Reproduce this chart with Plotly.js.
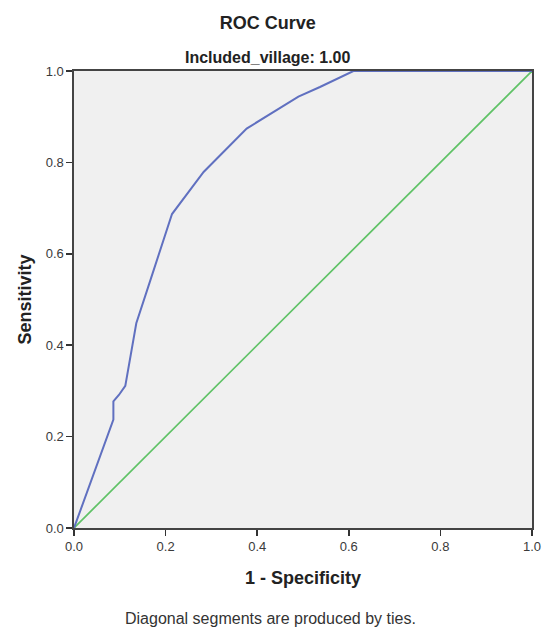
<!DOCTYPE html>
<html>
<head>
<meta charset="utf-8">
<script src="https://cdn.plot.ly/plotly-3.0.1.min.js"></script>
<style>html,body{margin:0;padding:0;background:#fff;}#chart{width:542px;height:630px;}</style>
</head>
<body>
<div id="chart"></div>
<script>
// ROC curve (1 - specificity, sensitivity)
var fpr = [0.000, 0.086, 0.086, 0.098, 0.112, 0.136, 0.167, 0.214, 0.283, 0.377, 0.490, 0.537, 0.610, 1.000];
var tpr = [0.000, 0.237, 0.277, 0.291, 0.311, 0.448, 0.543, 0.687, 0.779, 0.874, 0.944, 0.965, 1.000, 1.000];
// Reference line
var refX = [0, 1];
var refY = [0, 1];
var tickVals = [0, 0.2, 0.4, 0.6, 0.8, 1.0];
var tickText = ["0.0", "0.2", "0.4", "0.6", "0.8", "1.0"];

var F = "Liberation Sans, Arial, sans-serif";

var traces = [
  {x: refX, y: refY, type: "scatter", mode: "lines", name: "Reference Line",
   line: {color: "#5fc266", width: 1.7}, hoverinfo: "skip"},
  {x: fpr, y: tpr, type: "scatter", mode: "lines", name: "ROC",
   line: {color: "#6070c0", width: 2}}
];

var axisCommon = {
  range: [0, 1], tickvals: tickVals, ticktext: tickText,
  showgrid: false, zeroline: false,
  showline: true, linecolor: "#444", linewidth: 1.6, mirror: true,
  ticks: "outside", ticklen: 6, tickwidth: 1.5, tickcolor: "#333",
  tickfont: {family: F, size: 13, color: "#3a3a3a"},
  fixedrange: true
};

var layout = {
  width: 542, height: 630,
  margin: {l: 73.5, r: 9.5, t: 70.5, b: 101.5, pad: 0},
  paper_bgcolor: "#ffffff",
  plot_bgcolor: "#f0f0f0",
  showlegend: false,
  title: {text: "<b>ROC Curve</b>", font: {family: F, size: 18, color: "#222"},
          xref: "container", x: 0.494, xanchor: "center",
          yref: "container", y: 0.964, yanchor: "middle"},
  xaxis: Object.assign({}, axisCommon, {
    title: {text: "<b>1 - Specificity</b>", font: {family: F, size: 18, color: "#222"}, standoff: 18}
  }),
  yaxis: Object.assign({}, axisCommon, {
    title: {text: "<b>Sensitivity</b>", font: {family: F, size: 18, color: "#222"}, standoff: 9}
  }),
  annotations: [
    {text: "<b>Included_village: 1.00</b>", xref: "paper", yref: "paper",
     x: 0.424, y: 1.029, xanchor: "center", yanchor: "middle", showarrow: false,
     font: {family: F, size: 16, color: "#222"}},
    {text: "Diagonal segments are produced by ties.", xref: "paper", yref: "paper",
     x: 0.428, y: -0.197, xanchor: "center", yanchor: "middle", showarrow: false,
     font: {family: F, size: 16, color: "#333"}}
  ]
};

Plotly.newPlot("chart", traces, layout, {displayModeBar: false, staticPlot: true});
</script>
</body>
</html>
